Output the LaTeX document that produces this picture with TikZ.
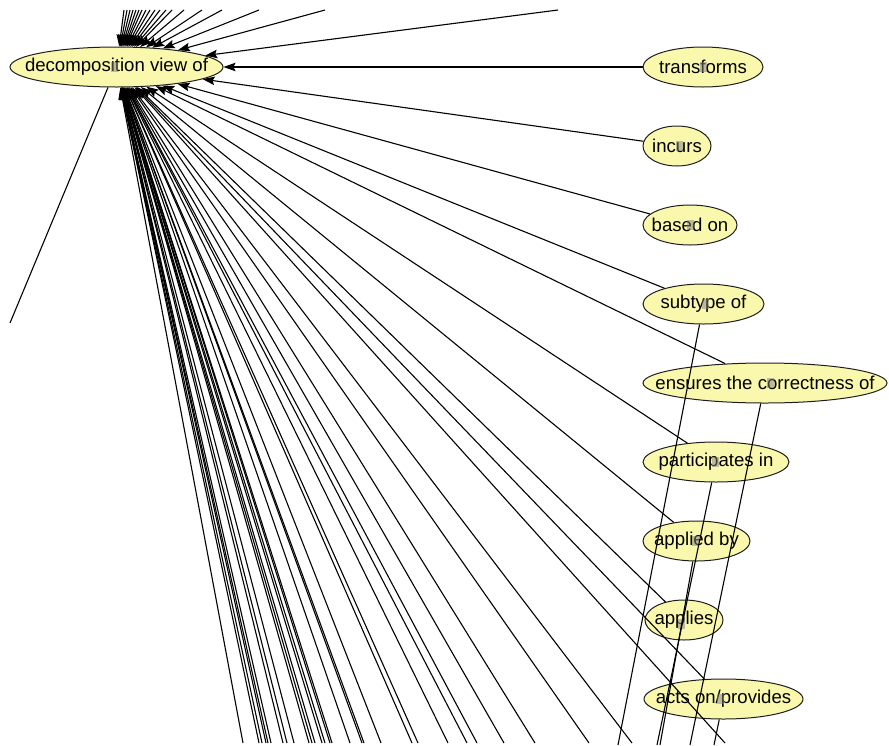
\documentclass[tikz,border=0pt]{standalone}
\usepackage{fontspec}
\setmainfont{Liberation Sans}
\usetikzlibrary{shapes.geometric,arrows.meta}
\definecolor{nodefill}{RGB}{250,248,172}
\definecolor{nodeline}{RGB}{30,30,30}
\tikzset{
  lbl/.style={ellipse, draw=nodeline, line width=1pt, fill=nodefill, minimum height=40pt, inner sep=0pt, font=\fontsize{18.6}{22}\selectfont},
  edgeline/.style={draw=black, line width=1.1pt},
  arr/.style={edgeline, -{Stealth[length=12pt,width=8.5pt,inset=2pt]}},
  gmark/.style={fill=gray, opacity=.5, minimum width=7pt, minimum height=10pt, inner sep=0pt}
}
\begin{document}
\begin{tikzpicture}[x=1pt,y=-1pt]
\useasboundingbox (0,0) rectangle (889,745);
% nodes
\node[lbl, minimum width=213pt] (main) at (116.5,67) {\makebox[0pt]{decomposition view of}};
\node[lbl, minimum width=120pt] (transforms) at (703,67) {\makebox[0pt]{transforms}};
\node[lbl, minimum width=68pt] (incurs) at (677,146) {\makebox[0pt]{incurs}};
\node[lbl, minimum width=94pt] (basedon) at (690,225) {\makebox[0pt]{based on}};
\node[lbl, minimum width=121pt] (subtype) at (703.5,304) {\makebox[0pt]{subtype of}};
\node[lbl, minimum width=244pt] (ensures) at (765,383) {\makebox[0pt]{ensures the correctness of}};
\node[lbl, minimum width=146pt] (particip) at (716,462) {\makebox[0pt]{participates in}};
\node[lbl, minimum width=107pt] (appliedby) at (696.5,541) {\makebox[0pt]{applied by}};
\node[lbl, minimum width=78pt] (applies) at (684,620) {\makebox[0pt]{applies}};
\node[lbl, minimum width=159pt] (actson) at (723.5,699) {\makebox[0pt]{acts on/provides}};
% grey marks
\node[gmark] (g0) at (114,67) {};
\node[gmark] (g1) at (703,67) {};
\node[gmark] (g2) at (679,146) {};
\node[gmark] (g3) at (690,225) {};
\node[gmark] (g4) at (705,304) {};
\node[gmark] (g5) at (770,383) {};
\node[gmark] (g6) at (715,462) {};
\node[gmark] (g7) at (695,541) {};
\node[gmark] (g8) at (681,624) {};
\node[gmark] (g9) at (720,699) {};
% edges from right nodes
\foreach \n in {transforms,incurs,basedon,subtype,ensures,particip,appliedby,applies,actson}
  \draw[arr] (\n) -- (main);
% top fan
\foreach \x [count=\i] in {124,127,130,133,136,139,142,146,150,155,160,166,172,184,202,222,259,325,558} {
  \coordinate (t\i) at (\x,10);
  \draw[arr] (t\i) -- (main);
}
% bottom fan
\foreach \x [count=\i] in {243,259,262,266,268,271,283,287,294,309,312,315,322,325,330,332,350,362,364,381,412,418,448,467,477,504,535,589,632,725} {
  \coordinate (b\i) at (\x,743);
  \draw[arr] (b\i) -- (main);
}
% left stray line
\coordinate (lft) at (10,323);
\draw[edgeline] (main) -- (lft);
% lines leaving right nodes downwards
\coordinate (s1) at (618,745);
\coordinate (s2) at (690,745);
\coordinate (s3) at (657,745);
\coordinate (s4) at (660,745);
\coordinate (s5) at (714,745);
\draw[edgeline] (subtype) -- (s1);
\draw[edgeline] (ensures) -- (s2);
\draw[edgeline] (particip) -- (s3);
\draw[edgeline] (appliedby) -- (s4);
\draw[edgeline] (actson) -- (s5);
\end{tikzpicture}
\end{document}
